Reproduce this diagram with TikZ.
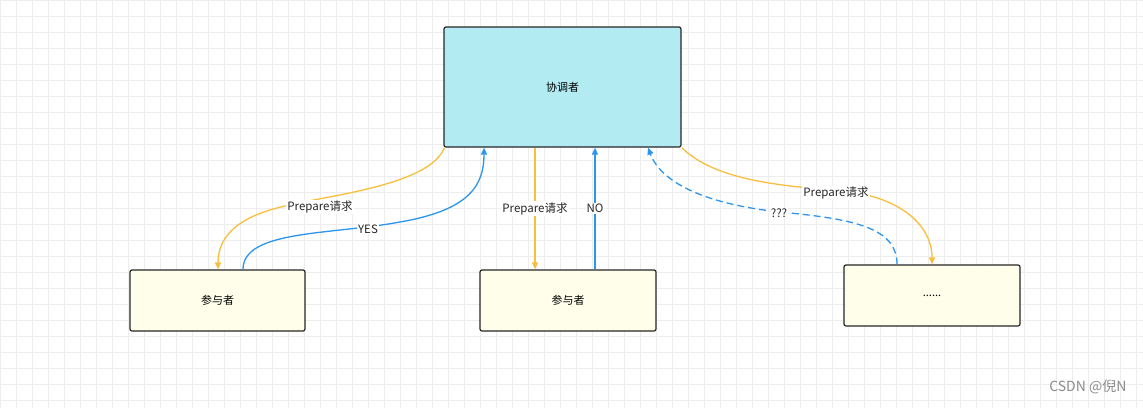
\documentclass[tikz,border=0pt]{standalone}
\usepackage{fontspec}
\setmainfont{Noto Sans CJK SC}
\usetikzlibrary{arrows.meta}
\definecolor{coord}{HTML}{B3EBF3}
\definecolor{part}{HTML}{FEFEEA}
\definecolor{org}{HTML}{F8BE3C}
\definecolor{blu}{HTML}{2B95F0}
\definecolor{gridc}{HTML}{EDEDED}
\tikzset{
  box/.style={draw=black!85,line width=1.2pt,rounded corners=2pt,font=\fontsize{11}{13}\selectfont},
  oarr/.style={org,line width=1.3pt,-{Triangle[length=7pt,width=6pt]}},
  barr/.style={blu,line width=1.3pt,-{Triangle[length=7pt,width=6pt]}},
  lbl/.style={fill=white,inner sep=1pt,font=\fontsize{11.5}{13}\selectfont,text=black!85}
}
\begin{document}
\begin{tikzpicture}[x=1pt,y=-1pt]
\useasboundingbox (0,0) rectangle (1143,408);
\fill[white] (0,0) rectangle (1143,408);
\foreach \i in {0,16,...,1143} \draw[gridc,line width=0.4pt] (\i,0) -- (\i,408);
\foreach \j in {0,16,...,408} \draw[gridc,line width=0.4pt] (0,\j) -- (1143,\j);
\node[box,fill=coord,minimum width=237pt,minimum height=120pt] (c) at (562.5,87) {协调者};
\node[box,fill=part,minimum width=175pt,minimum height=61pt] (p1) at (217.5,300.5) {参与者};
\node[box,fill=part,minimum width=176pt,minimum height=61pt] (p2) at (568,300.5) {参与者};
\node[box,fill=part,minimum width=176pt,minimum height=61pt] (p3) at (932,295.5) {......};
% left
\draw[oarr] ([xshift=1pt]c.south west) .. controls (430,185) and (330,195) .. (290,205)
  .. controls (240,215) and (218,235) .. (p1.north west -| 218,0);
\node[lbl] at (320,207) {Prepare请求};
\draw[barr] (p1.north west -| 243,0) .. controls (243,230) and (330,235) .. (400,222)
  .. controls (470,210) and (484,185) .. (c.south west -| 484,0);
\node[lbl] at (368,229) {YES};
% middle
\draw[oarr] (c.south west -| 535,0) -- (p2.north west -| 535,0) node[lbl,pos=0.5] {Prepare请求};
\draw[barr] (p2.north west -| 595,0) -- (c.south west -| 595,0) node[lbl,pos=0.5] {NO};
% right
\draw[oarr] (c.south east) .. controls (710,175) and (760,185) .. (835,190)
  .. controls (900,195) and (932,225) .. (p3.north west -| 932,0);
\node[lbl] at (836,193) {Prepare请求};
\draw[barr,dashed,dash pattern=on 7pt off 4pt] (p3.north west -| 897,0) .. controls (897,230) and (860,220) .. (790,213)
  .. controls (700,205) and (660,180) .. (c.south west -| 648,0);
\node[lbl] at (779,213) {???};
\node[font=\fontsize{14}{16}\selectfont,text=black!45,anchor=east] (wm) at (1130,387) {CSDN @倪N};
\end{tikzpicture}
\end{document}
